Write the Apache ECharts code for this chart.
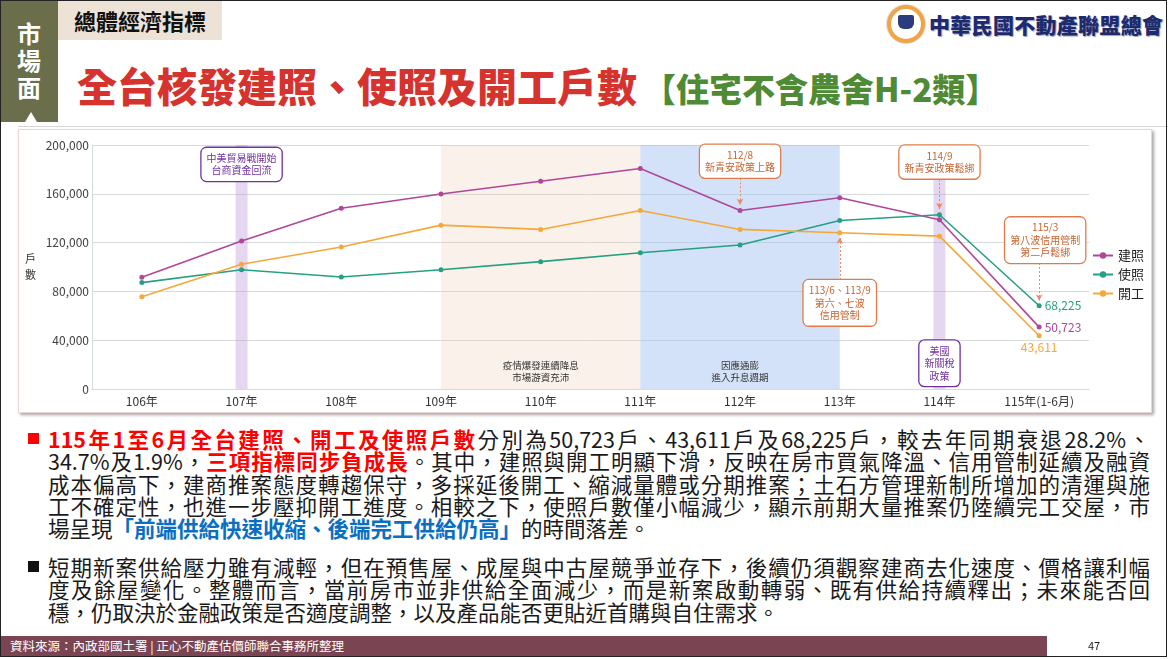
<!DOCTYPE html>
<html>
<head>
<meta charset="utf-8">
<script src="https://cdn.jsdelivr.net/npm/echarts@6/dist/echarts.min.js"></script>
<style>
  html, body { margin: 0; padding: 0; background: #fff; }
  body { width: 1169px; height: 659px; position: relative; overflow: hidden;
         font-family: "Noto Sans CJK TC", "Noto Sans", sans-serif; }
  .frame { position: absolute; left: 0; top: 0; width: 1167px; height: 657px;
           box-sizing: border-box; border: 1.5px solid #222; }
  .tab { position: absolute; left: 0; top: 0; width: 58px; height: 122px; background: #6b6e4a; }
  .tab .t { position: absolute; left: 0; width: 58px; text-align: center; color: #fff;
            font-weight: 700; font-size: 24px; line-height: 27px; top: 19px; }
  .tab .tri { position: absolute; left: 25px; top: 112px; width: 0; height: 0;
              border-left: 6px solid transparent; border-right: 6px solid transparent;
              border-bottom: 10px solid #fff; }
  .tag { position: absolute; left: 58px; top: 0; width: 164px; height: 40px; background: #ede2d6;
         font-weight: 700; font-size: 22px; line-height: 40px; text-align: center; color: #111; }
  .title { position: absolute; left: 77px; top: 56px; white-space: nowrap; }
  .title .r { color: #d6332e; font-size: 40px; font-weight: 900; }
  .title .g { color: #4f8a35; font-size: 33px; font-weight: 900; margin-left: 6px; }
  .logo { position: absolute; left: 887px; top: 5px; width: 30px; height: 30px; border-radius: 50%;
          border: 4px solid #f0a347; background: #fff; box-shadow: 0 0 0 1px #e8e0d0; }
  .logo i { position: absolute; left: 7px; top: 6px; width: 16px; height: 14px; background: #2c3a7e;
            border-radius: 2px 2px 6px 6px; }
  .org { position: absolute; left: 929px; top: 9px; font-size: 21px; font-weight: 900; color: #1d2a6e;
         letter-spacing: 0.3px; text-shadow: 1px 1px 1px #9aa0b8; white-space: nowrap; }
  .sep { position: absolute; left: 18px; top: 126px; width: 1150px; height: 1px; background: #d6d6d6; }
  .box { position: absolute; left: 18px; top: 129px; width: 1132px; height: 282px;
         border: 1px solid #f1d3d3; box-shadow: 2px 2px 3px rgba(0,0,0,0.35); background: #fff; }
  #chart { width: 1132px; height: 282px; }
  .txt { position: absolute; left: 48px; width: 1102px; font-size: 21.5px; line-height: 22.3px; color: #1a1a1a; }
  .txt div { white-space: nowrap; }
  .txt div.j { text-align: justify; text-align-last: justify; white-space: normal; }
  .red { color: #f00; font-weight: 700; }
  .blue { color: #0a6fc2; font-weight: 700; }
  .bul { position: absolute; left: 28px; width: 11px; height: 11px; }
  .foot { position: absolute; left: 0; top: 636px; width: 1047px; height: 20px; background: #7b4452;
          color: #fff; font-size: 12.5px; line-height: 20px; padding-left: 10px; box-sizing: border-box; }
  .pg { position: absolute; left: 1088px; top: 637px; font-size: 11px; color: #222; }
</style>
</head>
<body>
<div class="tab"><div class="t">市<br>場<br>面</div><div class="tri"></div></div>
<div class="tag">總體經濟指標</div>
<div class="title"><span class="r">全台核發建照、使照及開工戶數</span><span class="g">【住宅不含農舍H-2類】</span></div>
<div class="logo"><i></i></div>
<div class="org">中華民國不動產聯盟總會</div>
<div class="sep"></div>
<div class="box"><div id="chart"></div></div>

<div class="bul" style="top:433px;background:#f00;"></div>
<div class="txt" style="top:428px;">
  <div class="j"><span class="red">115年1至6月全台建照、開工及使照戶數</span>分別為50,723戶、43,611戶及68,225戶，較去年同期衰退28.2%、</div>
  <div class="j">34.7%及1.9%，<span class="red">三項指標同步負成長</span>。其中，建照與開工明顯下滑，反映在房市買氣降溫、信用管制延續及融資</div>
  <div class="j">成本偏高下，建商推案態度轉趨保守，多採延後開工、縮減量體或分期推案；土石方管理新制所增加的清運與施</div>
  <div class="j">工不確定性，也進一步壓抑開工進度。相較之下，使照戶數僅小幅減少，顯示前期大量推案仍陸續完工交屋，市</div>
  <div>場呈現<span class="blue">「前端供給快速收縮、後端完工供給仍高」</span>的時間落差。</div>
</div>
<div class="bul" style="top:561px;background:#111;"></div>
<div class="txt" style="top:556px;">
  <div class="j">短期新案供給壓力雖有減輕，但在預售屋、成屋與中古屋競爭並存下，後續仍須觀察建商去化速度、價格讓利幅</div>
  <div class="j">度及餘屋變化。整體而言，當前房市並非供給全面減少，而是新案啟動轉弱、既有供給持續釋出；未來能否回</div>
  <div>穩，仍取決於金融政策是否適度調整，以及產品能否更貼近首購與自住需求。</div>
</div>
<div class="foot">資料來源：內政部國土署 | 正心不動產估價師聯合事務所整理</div>
<div class="pg">47</div>
<div class="frame"></div>

<script>
(function() {
  var years = ['106年', '107年', '108年', '109年', '110年', '111年', '112年', '113年', '114年', '115年(1-6月)'];
  var buildPermits = [91500, 121300, 148200, 159900, 170300, 180700, 146300, 156700, 138700, 50723];
  var usePermits = [87200, 97800, 91800, 97800, 104400, 111700, 118000, 138100, 142800, 68225];
  var starts = [75700, 102200, 116400, 134300, 130800, 146300, 130800, 128100, 125300, 43611];
  var yTicks = [0, 200000, 40000]; // min, max, step

  // event notes: [category, value at box centre, text, kind]
  var notes = [
    ['107年', 184100, '中美貿易戰開始\n台商資金回流', 'purple'],
    ['112年', 186700, '112/8\n新青安政策上路', 'orange'],
    ['113年', 70600, '113/6、113/9\n第六、七波\n信用管制', 'orange'],
    ['114年', 186000, '114/9\n新青安政策鬆綁', 'orange'],
    ['115年(1-6月)', 122000, '115/3\n第八波信用管制\n第二戶鬆綁', 'orange'],
    ['114年', 21100, '美國\n新關稅\n政策', 'purple']
  ];
  // dashed pointers: [category, from, to]
  var pointers = [
    ['112年', 172700, 151000],
    ['113年', 89400, 124000],
    ['114年', 172000, 147500],
    ['115年(1-6月)', 103300, 72500]
  ];
  // shaded periods on category index scale: [from, to, text, kind]
  var periods = [
    [0.94, 1.06, '', 'purple'],
    [3, 5, '疫情爆發連續降息\n市場游資充沛', 'beige'],
    [5, 7, '因應通膨\n進入升息週期', 'blue'],
    [7.94, 8.06, '', 'purple']
  ];

  var font = '"Noto Sans CJK TC", "Noto Sans", sans-serif';
  var cBuild = '#b0479a', cUse = '#26a082', cStart = '#f5a83a';
  var noteStyle = {
    purple: { color: '#7030a0', borderColor: '#7030a0' },
    orange: { color: '#c8632f', borderColor: '#e07c4c' }
  };
  var bandColor = {
    purple: 'rgba(180,140,210,0.35)',
    beige: 'rgba(230,200,170,0.25)',
    blue: 'rgba(160,192,240,0.46)'
  };
  var last = years.length - 1;

  function endLabel(color, pos) {
    return {
      show: true, position: pos, distance: 3, color: color, fontSize: 12, fontFamily: font,
      formatter: function(p) { return p.dataIndex === last ? p.value.toLocaleString('en-US') : ''; }
    };
  }
  function lineSeries(name, data, color, pos) {
    return {
      name: name, type: 'line', data: data, z: 4,
      symbol: 'circle', symbolSize: 5,
      itemStyle: { color: color },
      lineStyle: { color: color, width: 1.6 },
      label: endLabel(color, pos)
    };
  }

  var chart = echarts.init(document.getElementById('chart'), null, { renderer: 'canvas' });
  chart.setOption({
    animation: false,
    textStyle: { fontFamily: font },
    grid: { left: 73, right: 62, top: 15, bottom: 23, containLabel: false },
    legend: {
      data: ['建照', '使照', '開工'],
      orient: 'vertical', right: 2, top: 114,
      itemWidth: 20, itemHeight: 8, itemGap: 6,
      textStyle: { color: '#222', fontSize: 13, fontFamily: font }
    },
    xAxis: [{
      type: 'category', data: years, boundaryGap: true,
      axisLine: { lineStyle: { color: '#d3dcdc' } },
      axisTick: { show: false },
      axisLabel: { color: '#333', fontSize: 12, margin: 6, fontFamily: font }
    }, {
      type: 'value', min: -0.5, max: 9.5, show: false
    }],
    yAxis: {
      type: 'value', min: yTicks[0], max: yTicks[1], interval: yTicks[2],
      name: '戶\n數', nameLocation: 'middle', nameRotate: 0, nameGap: 56,
      nameTextStyle: { color: '#333', fontSize: 11, lineHeight: 16, fontFamily: font },
      axisLine: { show: true, onZero: false, lineStyle: { color: '#d3dcdc' } },
      axisTick: { show: false },
      axisLabel: { color: '#404040', fontSize: 12, margin: 3, fontFamily: font,
        formatter: function(v) { return v.toLocaleString('en-US'); } },
      splitLine: { lineStyle: { color: '#d6dcdc' } }
    },
    series: [
      {
        name: 'bands', type: 'line', xAxisIndex: 1, data: [], z: 1, silent: true,
        markArea: {
          silent: true,
          data: periods.map(function(b) {
            return [{
              xAxis: b[0], itemStyle: { color: bandColor[b[3]] },
              label: { show: !!b[2], formatter: b[2], position: 'insideBottom', distance: 5,
                color: '#333', fontSize: 9.5, lineHeight: 12.5, fontFamily: font }
            }, { xAxis: b[1] }];
          })
        }
      },
      lineSeries('建照', buildPermits, cBuild, 'right'),
      lineSeries('使照', usePermits, cUse, 'right'),
      lineSeries('開工', starts, cStart, 'bottom'),
      {
        name: 'notes', type: 'line', data: years.map(function() { return null; }), z: 6,
        showSymbol: false, silent: true,
        markLine: {
          silent: true, symbol: ['none', 'arrow'], symbolSize: [5, 6],
          label: { show: false },
          lineStyle: { type: [2, 2], color: '#e88a63', width: 1 },
          data: pointers.map(function(p) {
            return [{ coord: [p[0], p[1]] }, { coord: [p[0], p[2]] }];
          })
        },
        markPoint: {
          silent: true, symbol: 'rect', symbolSize: 1,
          itemStyle: { color: 'rgba(0,0,0,0)' },
          data: notes.map(function(n) {
            var st = noteStyle[n[3]];
            return {
              coord: [n[0], n[1]],
              label: {
                show: true, position: 'inside', formatter: n[2],
                offset: n[0] === '115年(1-6月)' ? [6, 0] : [0, 0],
                color: st.color, fontSize: 10, lineHeight: 12.5, fontFamily: font,
                backgroundColor: '#fff', borderColor: st.borderColor, borderWidth: 1.3,
                borderRadius: 5, padding: [4, 5], align: 'center'
              }
            };
          })
        }
      }
    ]
  });
  window.addEventListener('resize', function() { chart.resize(); });
})();
</script>
</body>
</html>
